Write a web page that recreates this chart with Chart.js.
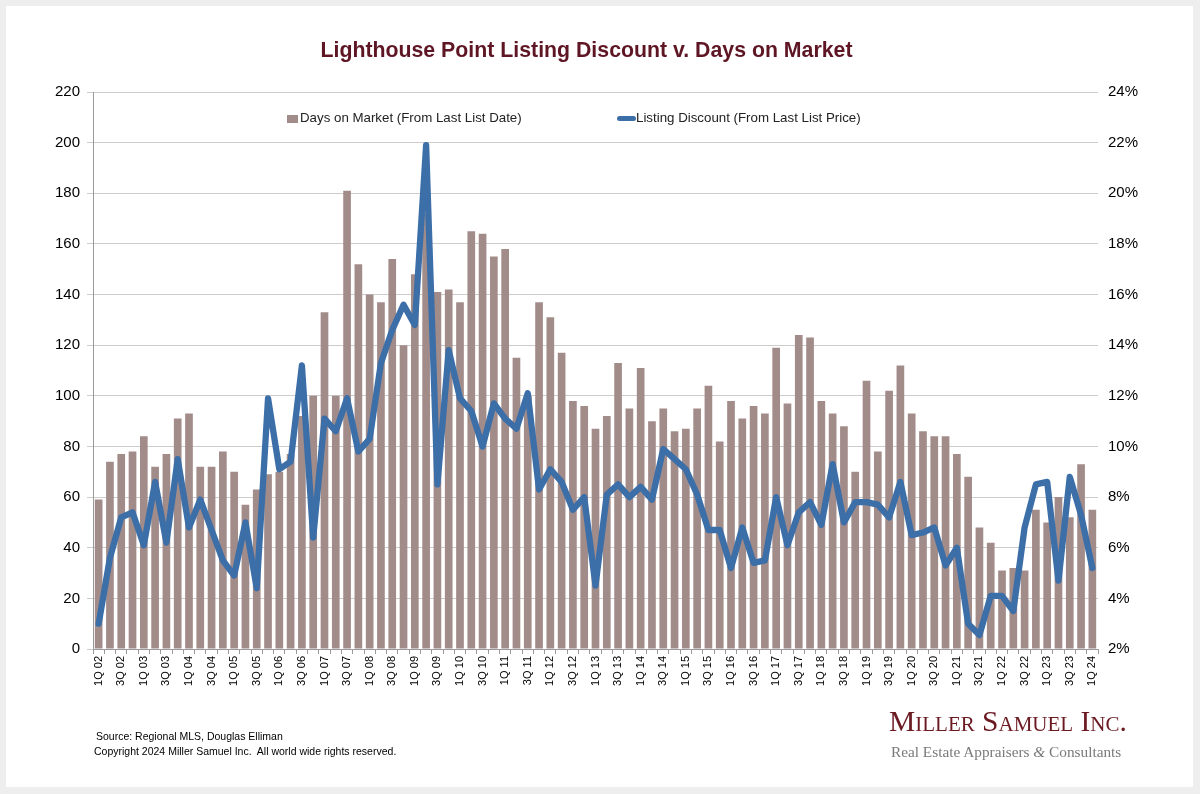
<!DOCTYPE html>
<html>
<head>
<meta charset="utf-8">
<script src="https://cdn.jsdelivr.net/npm/chart.js@4.4.1/dist/chart.umd.min.js"></script>
<style>
  html, body { margin: 0; padding: 0; background: #eeeeee; }
  body { width: 1200px; height: 794px; position: relative; overflow: hidden; font-family: "Liberation Sans", Arial, sans-serif; }
  #card { position: absolute; left: 6px; top: 6px; width: 1187px; height: 781px; background: #ffffff; }
  #chart { position: absolute; left: 0; top: 0; }
  .t { position: absolute; white-space: nowrap; }
  #title { left: 0; width: 1173px; text-align: center; top: 38px; font-size: 21.3px; font-weight: bold; color: #5f1624; }
  .leg { font-size: 13.3px; color: #222; top: 110px; }
  #sw1 { position: absolute; left: 287px; top: 115px; width: 11px; height: 8px; background: #a28c8a; }
  #sw2 { position: absolute; left: 617px; top: 116px; width: 19px; height: 5px; border-radius: 3px; background: #3c6ea8; }
  .foot { font-size: 10.5px; color: #000; }
  #logo1 { left: 889px; top: 705px; font-family: "Liberation Serif", "DejaVu Serif", serif; font-variant: small-caps; font-size: 29.5px; color: #6b1a22; }
  #logo2 { left: 891px; top: 743px; font-family: "Liberation Serif", "DejaVu Serif", serif; font-size: 15.3px; color: #7a7a7a; }
</style>
</head>
<body>
<div id="card"></div>
<canvas id="chart" width="1200" height="794"></canvas>
<div id="title" class="t">Lighthouse Point Listing Discount v. Days on Market</div>
<div id="sw1"></div>
<div class="t leg" style="left:300px;">Days on Market (From Last List Date)</div>
<div id="sw2"></div>
<div class="t leg" style="left:636px;">Listing Discount (From Last List Price)</div>
<div class="t foot" style="left:96px; top:730px;">Source: Regional MLS, Douglas Elliman</div>
<div class="t foot" style="left:94px; top:745px;">Copyright 2024 Miller Samuel Inc.&nbsp; All world wide rights reserved.</div>
<div id="logo1" class="t">Miller Samuel Inc.</div>
<div id="logo2" class="t">Real Estate Appraisers <i>&amp;</i> Consultants</div>
<script>
const quarters = [
  "1Q 02","2Q 02","3Q 02","4Q 02",
  "1Q 03","2Q 03","3Q 03","4Q 03",
  "1Q 04","2Q 04","3Q 04","4Q 04",
  "1Q 05","2Q 05","3Q 05","4Q 05",
  "1Q 06","2Q 06","3Q 06","4Q 06",
  "1Q 07","2Q 07","3Q 07","4Q 07",
  "1Q 08","2Q 08","3Q 08","4Q 08",
  "1Q 09","2Q 09","3Q 09","4Q 09",
  "1Q 10","2Q 10","3Q 10","4Q 10",
  "1Q 11","2Q 11","3Q 11","4Q 11",
  "1Q 12","2Q 12","3Q 12","4Q 12",
  "1Q 13","2Q 13","3Q 13","4Q 13",
  "1Q 14","2Q 14","3Q 14","4Q 14",
  "1Q 15","2Q 15","3Q 15","4Q 15",
  "1Q 16","2Q 16","3Q 16","4Q 16",
  "1Q 17","2Q 17","3Q 17","4Q 17",
  "1Q 18","2Q 18","3Q 18","4Q 18",
  "1Q 19","2Q 19","3Q 19","4Q 19",
  "1Q 20","2Q 20","3Q 20","4Q 20",
  "1Q 21","2Q 21","3Q 21","4Q 21",
  "1Q 22","2Q 22","3Q 22","4Q 22",
  "1Q 23","2Q 23","3Q 23","4Q 23",
  "1Q 24"
];

const daysOnMarket = [
  59, 74, 77, 78,
  84, 72, 77, 91,
  93, 72, 72, 78,
  70, 57, 63, 69,
  70, 77, 92, 100,
  133, 100, 181, 152,
  140, 137, 154, 120,
  148, 172, 141, 142,
  137, 165, 164, 155,
  158, 115, 100, 137,
  131, 117, 98, 96,
  87, 92, 113, 95,
  111, 90, 95, 86,
  87, 95, 104, 82,
  98, 91, 96, 93,
  119, 97, 124, 123,
  98, 93, 88, 70,
  106, 78, 102, 112,
  93, 86, 84, 84,
  77, 68, 48, 42,
  31, 32, 31, 55,
  50, 60, 52, 73,
  55
];

const listingDiscount = [
  3.0, 5.6, 7.2, 7.4,
  6.1, 8.6, 6.2, 9.5,
  6.8, 7.9, 6.7, 5.5,
  4.9, 7.0, 4.4, 11.9,
  9.1, 9.4, 13.2, 6.4,
  11.1, 10.6, 11.9, 9.8,
  10.3, 13.3, 14.6, 15.6,
  14.8, 21.9, 8.5, 13.8,
  11.9, 11.4, 10.0, 11.7,
  11.1, 10.7, 12.1, 8.3,
  9.1, 8.6, 7.5, 8.0,
  4.5, 8.1, 8.5, 8.0,
  8.4, 7.9, 9.9, 9.5,
  9.1, 8.1, 6.7, 6.7,
  5.2, 6.8, 5.4, 5.5,
  8.0, 6.1, 7.4, 7.8,
  6.9, 9.3, 7.0, 7.8,
  7.8, 7.7, 7.2, 8.6,
  6.5, 6.6, 6.8, 5.3,
  6.0, 3.0, 2.55, 4.1,
  4.1, 3.5, 6.8, 8.5,
  8.6, 4.7, 8.8, 7.3,
  5.2
];

const leftTicks = { min: 0, max: 220, step: 20 };
const rightTicks = { min: 2, max: 24, step: 2 };

const barColor = '#a28c8a';
const lineColor = '#3c6ea8';
const FONT = '"Liberation Sans", Arial, sans-serif';

new Chart(document.getElementById('chart'), {
  type: 'bar',
  data: {
    labels: quarters,
    datasets: [
      {
        type: 'line',
        label: 'Listing Discount (From Last List Price)',
        data: listingDiscount,
        yAxisID: 'y1',
        borderColor: lineColor,
        backgroundColor: lineColor,
        borderWidth: 6.3,
        pointRadius: 0,
        tension: 0,
        borderJoinStyle: 'round',
        borderCapStyle: 'round',
        order: 0
      },
      {
        type: 'bar',
        label: 'Days on Market (From Last List Date)',
        data: daysOnMarket,
        yAxisID: 'y',
        backgroundColor: barColor,
        barPercentage: 0.68,
        categoryPercentage: 1.0,
        order: 1
      }
    ]
  },
  options: {
    responsive: false,
    animation: false,
    devicePixelRatio: 1,
    layout: { padding: { top: 92, left: 0, right: 0, bottom: 0 } },
    plugins: {
      legend: { display: false },
      tooltip: { enabled: false },
      title: { display: false }
    },
    scales: {
      x: {
        offset: true,
        grid: { display: true, drawOnChartArea: false, drawTicks: true, tickLength: 5, color: '#9a9a9a', offset: true },
        border: { display: true, color: '#9a9a9a' },
        ticks: {
          autoSkip: false,
          maxRotation: 90,
          minRotation: 90,
          padding: 2,
          color: '#000',
          font: { family: FONT, size: 11 },
          callback: function (v, i) { return i % 2 === 0 ? quarters[i] : ''; }
        },
        afterFit: function (s) { s.height = 145; }
      },
      y: {
        position: 'left',
        min: leftTicks.min,
        max: leftTicks.max,
        grid: { color: '#cccccc', tickLength: 6, lineWidth: 1 },
        border: { display: true, color: '#9a9a9a' },
        ticks: {
          stepSize: leftTicks.step,
          padding: 7,
          color: '#000',
          font: { family: FONT, size: 15 }
        },
        afterFit: function (s) { s.width = 93; }
      },
      y1: {
        position: 'right',
        min: rightTicks.min,
        max: rightTicks.max,
        grid: { drawOnChartArea: false, drawTicks: false },
        border: { display: false },
        ticks: {
          stepSize: rightTicks.step,
          padding: 10,
          color: '#000',
          font: { family: FONT, size: 15 },
          callback: function (v) { return v + '%'; }
        },
        afterFit: function (s) { s.width = 102; }
      }
    }
  }
});
</script>
</body>
</html>
